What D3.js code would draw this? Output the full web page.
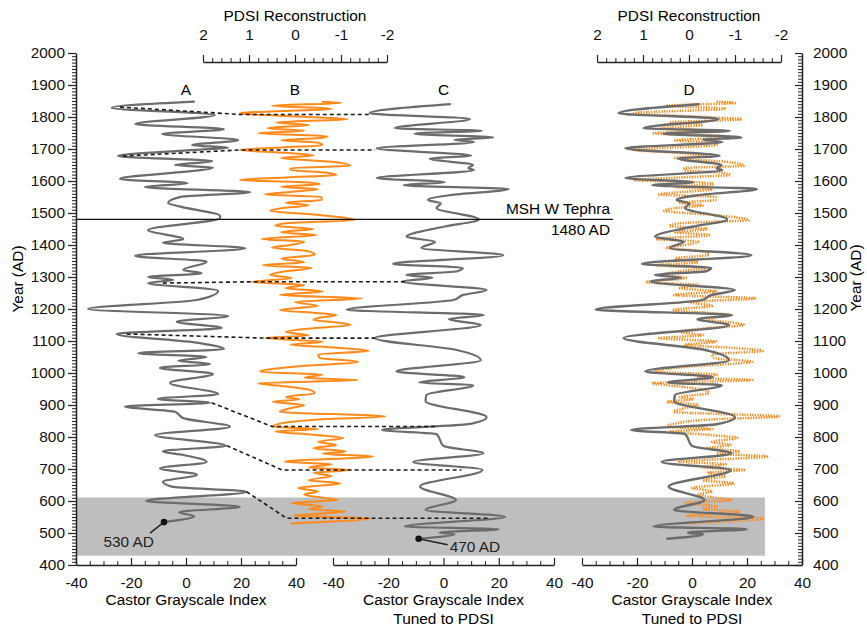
<!DOCTYPE html>
<html><head><meta charset="utf-8">
<script src="https://cdn.jsdelivr.net/npm/d3@7"></script>
<style>
body{margin:0;background:#fff;}
text{font-family:"Liberation Sans",Arial,Helvetica,sans-serif;}
</style></head><body>
<svg id="chart" width="867" height="629"></svg>
<script>
// ---------------- DATA ----------------
// Castor grayscale index (panel A), year -> index
const castorYears = [1848,1829,1806,1778,1762,1747,1728,1712,1704,1697,1678,1662,1650,1642,1606,1593,1581,1565,1551,1531,1520,1491,1484,1447,1418,1407,1390,1366,1348,1322,1312,1300,1291,1281,1257,1228,1200,1178,1160,1141,1122,1094,1075,1062,1050,1038,1028,1016,997,969,934,919,907,895,879,859,832,806,773,755,744,722,702,682,660,645,629,600,582,565,552,534];
const castorIndex = [2.9,-27,10.5,-18.5,13.8,-8.7,19,2.2,15.3,3.3,-24.7,9.5,-4,9.8,-24,0.5,-15,23.3,-1.6,-6.5,-2,12.4,12.4,-13.8,-1,-8.4,21.5,-18.5,7.5,-1,5.7,-13.8,-4.7,-13.8,11.7,3.9,-35.6,15.4,-3.4,13,-25.2,4.5,13.8,-17.4,7.5,-2.8,8.7,-9.5,9.8,-5.8,11.7,-10.2,8.7,-22.2,-4,-1,16,-11.3,14.5,-8.4,-1.1,7.5,-9.5,4,-8.4,-5.2,22,-14.5,19.6,-2.5,3,-8];

// Castor grayscale index tuned to PDSI (panels C and D)
const tunedYears = [1840,1812,1794,1765,1757,1748,1736,1729,1722,1702,1679,1670,1650,1640,1634,1609,1596,1587,1575,1556,1541,1530,1516,1480,1457,1426,1410,1391,1368,1341,1328,1318,1306,1298,1286,1259,1244,1228,1198,1181,1168,1150,1109,1072,1040,1005,987,970,962,931,912,862,840,822,809,772,749,722,697,645,603,572,551,520,512,501,496,482];
const tunedIndex = [2.4,-26.7,9.6,-17.6,13.8,-10.5,18,4,11,-24.2,10,-5,10.7,9,11,-24.2,0.5,-14.4,23.6,2.5,-5.6,-1,-2.5,12.8,0,-13.4,-3,-8,21.6,-18.2,7,5,-13.5,-4,-15,15.6,7.2,3.5,-35,14.6,2,13.5,-24.9,4.8,13.5,-17,7.5,-8.8,10.8,-6.2,-6.5,15.6,8.9,-22.2,-2.5,0,14.4,-11,14.1,-8.5,4.5,-6.5,22.3,-14,19.9,-1.5,4,-9];

// PDSI reconstruction (panel B, and dotted in panel D)
const pdsiYears = [1848,1844,1835,1826,1812,1800,1793,1783,1775,1765,1757,1749,1740,1735,1727,1720,1712,1705,1697,1688,1680,1672,1660,1648,1640,1634,1626,1619,1611,1603,1596,1590,1582,1574,1566,1558,1550,1541,1532,1524,1515,1507,1494,1478,1468,1460,1450,1440,1431,1419,1410,1400,1392,1380,1369,1358,1346,1337,1328,1318,1306,1297,1284,1275,1265,1255,1244,1233,1222,1210,1197,1188,1181,1172,1166,1158,1150,1140,1128,1118,1109,1098,1088,1079,1069,1058,1047,1035,1020,1004,995,985,978,968,958,948,937,925,918,910,900,890,879,864,855,845,832,825,817,807,797,785,775,765,755,748,739,723,715,705,697,688,678,665,655,641,630,620,610,603,594,583,575,567,554,546,530];
const pdsiValues = [-0.6,-1.0,0.5,-0.8,1.2,-0.3,-1.15,0.4,-0.3,0.6,-0.2,0.8,-0.7,-0.6,0.3,-0.5,-0.6,0.3,1.2,0.2,-0.4,0.3,-0.8,-1.2,0.1,0.1,-0.7,-0.9,0.2,1.2,-0.2,-0.54,0.3,-0.5,0.1,0.65,-0.58,-0.58,0.2,-0.3,0.3,0.54,-0.5,-1.3,0.2,0.43,-0.4,0.3,-0.47,0.72,-0.2,0.1,0.5,-0.3,-0.43,0.3,-0.2,0.7,-0.36,0.2,0.54,0.07,0.94,-0.2,0.2,-0.6,0.33,-1.45,0.0,-0.5,0.33,-0.4,-0.9,-0.5,-0.4,-0.9,-1.2,-0.4,0.2,-0.3,0.65,-0.6,0.1,-0.9,-1.6,-0.5,-0.54,-1.37,0.0,0.76,-0.6,-0.2,-1.37,0.8,0.2,-0.3,-0.43,0.2,-0.1,0.48,-0.2,0.1,0.33,-1.96,-0.5,0.2,0.48,-0.5,0.43,-0.4,-1.05,-0.5,-0.9,-0.4,-1.1,-0.6,-1.7,0.22,-0.8,-0.3,-1.2,-0.4,-0.8,-0.3,-0.98,-0.07,-0.5,-0.2,-0.6,-0.93,0.07,-0.6,-0.3,-1.1,0.04,-1.63,0.07];

// Tie points: [castor index, year] in A -> [PDSI, year] in B -> [tuned index, year] in C
const tieA = [[-24,1831],[-23,1678],[-8.4,1281],[-21.6,1122],[9.3,907],[14.8,773],[22,629]];
const tieB = [[1.2,1808],[1.2,1697],[0.94,1285],[0.65,1109],[0.5,833],[0.28,697],[0.18,546]];
const tieC = [[-27,1808],[-24.8,1697],[-14,1285],[-24.8,1109],[-2.5,833],[6.5,697],[17,546]];

// Axis ticks and labels
const yearTicks = [400,500,600,700,800,900,1000,1100,1200,1300,1400,1500,1600,1700,1800,1900,2000];
const indexTicks = [-40,-20,0,20,40];
const pdsiTicks = [2,1,0,-1,-2];
const tephraYear = 1480;
const bandYears = [429, 611];
const bandRightIndex = 26.5;
const panelLetters = ["A","B","C","D"];

// ---------------- DRAW ----------------
const svg = d3.select('#chart');
const FONT = 15.4;
const fmt = d => String(d);   // plain hyphen-minus like the original
const y = d3.scaleLinear().domain([400,2000]).range([565,53]);
const xA = d3.scaleLinear().domain([-40,40]).range([76,296]);
const xC = d3.scaleLinear().domain([-40,40]).range([333,554]);
const xD = d3.scaleLinear().domain([-40,40]).range([582,802]);
const pB = d3.scaleLinear().domain([2,-2]).range([203,387]);
const pD = d3.scaleLinear().domain([2,-2]).range([597,781]);

const grayCol = '#6c6c6c', orange = '#ff8a1c';

// band
svg.append('rect')
  .attr('x', xA(-40)).attr('y', y(bandYears[1]))
  .attr('width', xD(bandRightIndex) - xA(-40))
  .attr('height', y(bandYears[0]) - y(bandYears[1]))
  .attr('fill', '#bebebe');

function series(years, vals){ return years.map((yr,i)=>({yr, v:vals[i]})); }
function drawCurve(data, xs, color, width, dash){
  const line = d3.line().x(d=>xs(d.v)).y(d=>y(d.yr)).curve(d3.curveMonotoneY);
  const p = svg.append('path').datum(data).attr('d', line)
    .attr('fill','none').attr('stroke', color).attr('stroke-width', width)
    .attr('stroke-linejoin','round').attr('stroke-linecap','round');
  if (dash) p.attr('stroke-dasharray', dash).attr('stroke-linecap','butt');
  return p;
}
const castor = series(castorYears, castorIndex);
const tuned = series(tunedYears, tunedIndex);
const pdsi = series(pdsiYears, pdsiValues);

drawCurve(castor, xA, grayCol, 2.2);
drawCurve(pdsi, pB, orange, 2);
drawCurve(tuned, xC, grayCol, 2.2);
drawCurve(pdsi, pD, orange, 2.6, '1.3,1.3');
drawCurve(tuned, xD, grayCol, 2.4);

// tie lines
tieA.forEach((a,i)=>{
  const pts = [[xA(a[0]), y(a[1])],[pB(tieB[i][0]), y(tieB[i][1])],[xC(tieC[i][0]), y(tieC[i][1])]];
  svg.append('path').attr('d', d3.line()(pts)).attr('fill','none')
    .attr('stroke','#1a1a1a').attr('stroke-width',1.6).attr('stroke-dasharray','4,3');
});

// tephra line
svg.append('line').attr('x1', xA(-40)).attr('x2', 613)
  .attr('y1', y(tephraYear)).attr('y2', y(tephraYear))
  .attr('stroke','#111').attr('stroke-width',1.4);
svg.append('text').attr('x',610).attr('y', y(tephraYear)-5).attr('text-anchor','end')
  .attr('font-size',FONT).text('MSH W Tephra');
svg.append('text').attr('x',610).attr('y', y(tephraYear)+16).attr('text-anchor','end')
  .attr('font-size',FONT).text(tephraYear + ' AD');

// annotations
const aEnd = castor[castor.length-1];
const ax = xA(aEnd.v), ay = y(aEnd.yr);
svg.append('line').attr('x1',ax).attr('y1',ay).attr('x2',ax-14).attr('y2',ay+11).attr('stroke','#222').attr('stroke-width',1.5);
svg.append('circle').attr('cx',ax).attr('cy',ay).attr('r',3.3).attr('fill','#111');
svg.append('text').attr('x',ax-10).attr('y',ay+25).attr('text-anchor','end').attr('font-size',FONT).attr('fill','#222').text('530 AD');
const cEnd = tuned[tuned.length-1];
const cx = xC(cEnd.v), cy = y(cEnd.yr);
svg.append('line').attr('x1',cx).attr('y1',cy).attr('x2',cx+29).attr('y2',cy+6).attr('stroke','#222').attr('stroke-width',1.5);
svg.append('circle').attr('cx',cx).attr('cy',cy).attr('r',3.3).attr('fill','#111');
svg.append('text').attr('x',cx+31).attr('y',cy+13).attr('font-size',FONT).attr('fill','#222').text('470 AD');

// axes helpers
function styleAxis(g){
  g.select('.domain').attr('stroke','#222').attr('stroke-width',1.5);
  g.selectAll('.tick line').attr('stroke','#222').attr('stroke-width',1.2);
  g.selectAll('.tick text').attr('font-size',FONT).attr('fill','#111')
    .attr('font-family','"Liberation Sans",Arial,Helvetica,sans-serif');
}
function minor(g){ g.select('.domain').remove(); g.selectAll('.tick line').attr('stroke','#222').attr('stroke-width',1); }

const yearMinor = d3.range(400,2001,10).filter(v=>v%100!==0);
// left
svg.append('g').attr('transform','translate(76,0)')
  .call(d3.axisLeft(y).tickValues(yearMinor).tickSize(4).tickFormat('')).call(minor);
svg.append('g').attr('transform','translate(76,0)')
  .call(d3.axisLeft(y).tickValues(yearTicks).tickSizeInner(8).tickSizeOuter(0).tickPadding(3).tickFormat(fmt))
  .call(styleAxis);
// right
svg.append('g').attr('transform','translate(802,0)')
  .call(d3.axisRight(y).tickValues(yearMinor).tickSize(-4).tickFormat('')).call(minor);
svg.append('g').attr('transform','translate(802,0)')
  .call(d3.axisRight(y).tickValues(yearTicks).tickSizeInner(-7).tickSizeOuter(0).tickPadding(11).tickFormat(fmt))
  .call(styleAxis);

// bottom axes
const idxMinor = d3.range(-40,41,5).filter(v=>v%20!==0);
[xA,xC,xD].forEach(xs=>{
  svg.append('g').attr('transform','translate(0,565)')
    .call(d3.axisBottom(xs).tickValues(idxMinor).tickSize(-4).tickFormat('')).call(minor);
  svg.append('g').attr('transform','translate(0,565)')
    .call(d3.axisBottom(xs).tickValues(indexTicks).tickSizeInner(-7).tickSizeOuter(0).tickPadding(12).tickFormat(fmt))
    .call(styleAxis);
});
// top axes
const pMinor = d3.range(-2,2.001,0.2).map(v=>+v.toFixed(1)).filter(v=>Math.abs(v-Math.round(v))>0.01);
[pB,pD].forEach(ps=>{
  svg.append('g').attr('transform','translate(0,62)')
    .call(d3.axisTop(ps).tickValues(pMinor).tickSize(4).tickFormat('')).call(minor);
  svg.append('g').attr('transform','translate(0,62)')
    .call(d3.axisTop(ps).tickValues(pdsiTicks).tickSizeInner(7).tickSizeOuter(0).tickPadding(15).tickFormat(fmt))
    .call(styleAxis);
  svg.append('text').attr('x', ps(0)).attr('y', 21).attr('text-anchor','middle')
    .attr('font-size',FONT).text('PDSI Reconstruction');
});

// axis titles
svg.append('text').attr('transform','translate(23,279) rotate(-90)').attr('text-anchor','middle').attr('font-size',FONT).text('Year (AD)');
svg.append('text').attr('transform','translate(861,278) rotate(-90)').attr('text-anchor','middle').attr('font-size',FONT).text('Year (AD)');
svg.append('text').attr('x',xA(0)).attr('y',605).attr('text-anchor','middle').attr('font-size',FONT).text('Castor Grayscale Index');
[xC,xD].forEach(xs=>{
  svg.append('text').attr('x',xs(0)).attr('y',605).attr('text-anchor','middle').attr('font-size',FONT).text('Castor Grayscale Index');
  svg.append('text').attr('x',xs(0)).attr('y',624).attr('text-anchor','middle').attr('font-size',FONT).text('Tuned to PDSI');
});

// panel letters
const letterX = [xA(0), pB(0), xC(0), pD(0)];
panelLetters.forEach((l,i)=>{
  svg.append('text').attr('x',letterX[i]).attr('y',95).attr('text-anchor','middle').attr('font-size',FONT).text(l);
});
</script>
</body></html>
